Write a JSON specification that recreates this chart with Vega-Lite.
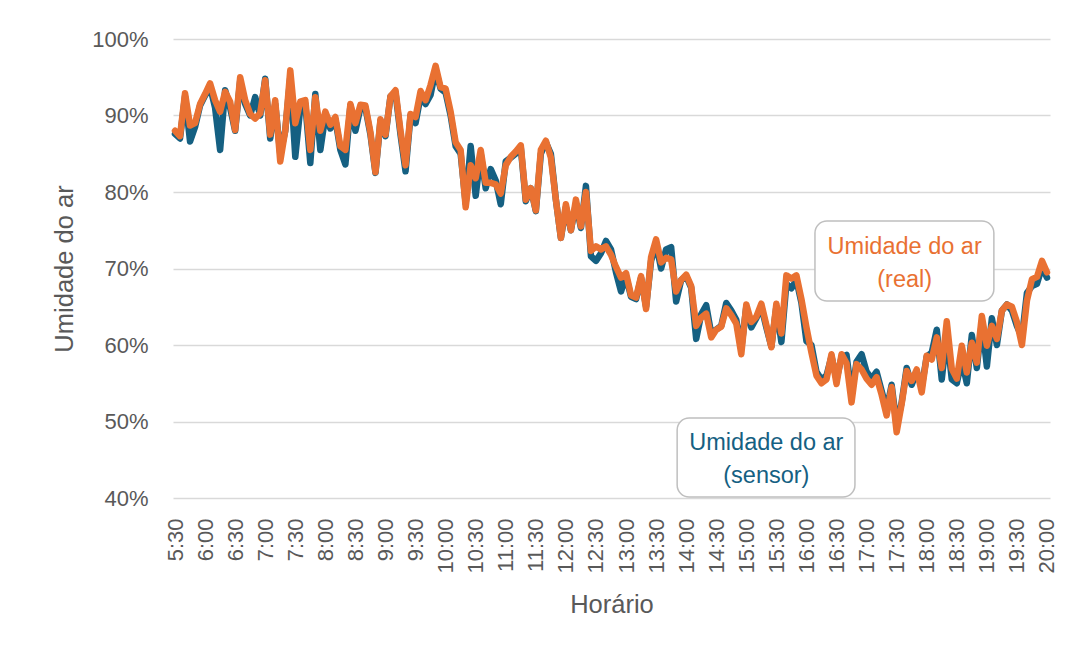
{
  "$schema": "https://vega.github.io/schema/vega-lite/v6.json",
  "width": 877,
  "height": 459,
  "autosize": "none",
  "padding": {"left": 173, "top": 39, "right": 23, "bottom": 156},
  "background": "white",
  "config": {
    "view": {"stroke": null},
    "axis": {"labelFont": "Liberation Sans", "titleFont": "Liberation Sans", "labelColor": "#595959", "titleColor": "#595959", "titleFontWeight": "normal", "domain": false, "ticks": false, "labelOverlap": false},
    "axisX": {"labelOverlap": false, "labelBound": false}
  },
  "data": {
    "values": [
      {"m":330,"r":88.0,"s":87.6},{"m":335,"r":87.3,"s":87.0},{"m":340,"r":92.9,"s":92.5},{"m":345,"r":88.7,"s":86.6},
      {"m":350,"r":89.0,"s":88.5},{"m":355,"r":91.5,"s":91.3},{"m":360,"r":92.8,"s":92.6},{"m":365,"r":94.2,"s":93.8},
      {"m":370,"r":92.0,"s":91.0},{"m":375,"r":90.5,"s":85.5},{"m":380,"r":93.1,"s":93.3},{"m":385,"r":91.8,"s":91.0},
      {"m":390,"r":88.1,"s":88.0},{"m":395,"r":95.0,"s":94.5},{"m":400,"r":92.0,"s":91.5},{"m":405,"r":90.2,"s":90.0},
      {"m":410,"r":89.6,"s":92.4},{"m":415,"r":90.3,"s":90.0},{"m":420,"r":94.6,"s":94.8},{"m":425,"r":87.5,"s":87.0},
      {"m":430,"r":92.0,"s":91.5},{"m":435,"r":84.0,"s":85.0},{"m":440,"r":88.0,"s":88.0},{"m":445,"r":95.9,"s":95.0},
      {"m":450,"r":89.0,"s":84.6},{"m":455,"r":91.8,"s":91.0},{"m":460,"r":92.0,"s":91.5},{"m":465,"r":85.5,"s":83.8},
      {"m":470,"r":92.4,"s":92.8},{"m":475,"r":88.0,"s":85.5},{"m":480,"r":90.5,"s":90.0},{"m":485,"r":88.8,"s":88.3},
      {"m":490,"r":89.8,"s":89.5},{"m":495,"r":86.0,"s":85.5},{"m":500,"r":85.5,"s":83.6},{"m":505,"r":91.5,"s":91.3},
      {"m":510,"r":89.0,"s":88.0},{"m":515,"r":91.4,"s":91.0},{"m":520,"r":91.3,"s":91.0},{"m":525,"r":87.8,"s":87.5},
      {"m":530,"r":82.6,"s":82.5},{"m":535,"r":89.5,"s":89.3},{"m":540,"r":87.5,"s":87.3},{"m":545,"r":92.5,"s":92.5},
      {"m":550,"r":93.3,"s":93.0},{"m":555,"r":88.0,"s":87.5},{"m":560,"r":83.5,"s":82.7},{"m":565,"r":90.2,"s":90.0},
      {"m":570,"r":89.8,"s":89.0},{"m":575,"r":93.2,"s":92.5},{"m":580,"r":92.0,"s":91.5},{"m":585,"r":94.0,"s":92.7},
      {"m":590,"r":96.5,"s":96.0},{"m":595,"r":93.7,"s":93.5},{"m":600,"r":93.5,"s":93.0},{"m":605,"r":90.5,"s":90.0},
      {"m":610,"r":86.5,"s":86.0},{"m":615,"r":85.5,"s":85.0},{"m":620,"r":78.0,"s":78.5},{"m":625,"r":83.5,"s":86.0},
      {"m":630,"r":81.8,"s":79.5},{"m":635,"r":85.5,"s":85.0},{"m":640,"r":81.2,"s":80.5},{"m":645,"r":81.2,"s":83.0},
      {"m":650,"r":81.0,"s":81.5},{"m":655,"r":79.8,"s":78.4},{"m":660,"r":83.5,"s":84.0},{"m":665,"r":84.6,"s":84.5},
      {"m":670,"r":85.3,"s":85.0},{"m":675,"r":86.1,"s":85.8},{"m":680,"r":79.0,"s":78.8},{"m":685,"r":80.5,"s":80.5},
      {"m":690,"r":77.6,"s":77.5},{"m":695,"r":85.5,"s":85.0},{"m":700,"r":86.7,"s":86.5},{"m":705,"r":84.5,"s":85.0},
      {"m":710,"r":79.0,"s":79.0},{"m":715,"r":74.0,"s":74.0},{"m":720,"r":78.4,"s":78.0},{"m":725,"r":75.0,"s":75.0},
      {"m":730,"r":79.0,"s":78.5},{"m":735,"r":75.5,"s":75.3},{"m":740,"r":80.0,"s":80.8},{"m":745,"r":72.3,"s":71.6},
      {"m":750,"r":72.9,"s":71.0},{"m":755,"r":72.5,"s":72.0},{"m":760,"r":72.9,"s":73.6},{"m":765,"r":71.8,"s":72.5},
      {"m":770,"r":70.2,"s":69.5},{"m":775,"r":68.8,"s":67.0},{"m":780,"r":69.4,"s":69.0},{"m":785,"r":66.5,"s":66.3},
      {"m":790,"r":66.2,"s":66.0},{"m":795,"r":69.0,"s":68.8},{"m":800,"r":64.7,"s":65.0},{"m":805,"r":71.5,"s":71.0},
      {"m":810,"r":73.8,"s":73.2},{"m":815,"r":70.8,"s":70.0},{"m":820,"r":71.4,"s":72.5},{"m":825,"r":71.2,"s":72.8},
      {"m":830,"r":67.0,"s":65.7},{"m":835,"r":68.5,"s":68.5},{"m":840,"r":69.2,"s":69.0},{"m":845,"r":67.7,"s":67.5},
      {"m":850,"r":62.5,"s":60.8},{"m":855,"r":63.6,"s":64.0},{"m":860,"r":64.1,"s":65.2},{"m":865,"r":61.0,"s":61.5},
      {"m":870,"r":62.0,"s":62.0},{"m":875,"r":62.4,"s":62.5},{"m":880,"r":64.8,"s":65.5},{"m":885,"r":63.9,"s":64.5},
      {"m":890,"r":62.8,"s":63.3},{"m":895,"r":58.8,"s":59.5},{"m":900,"r":65.3,"s":65.0},{"m":905,"r":63.0,"s":62.3},
      {"m":910,"r":63.7,"s":63.5},{"m":915,"r":65.4,"s":65.0},{"m":920,"r":62.6,"s":62.3},{"m":925,"r":59.7,"s":59.8},
      {"m":930,"r":65.4,"s":65.0},{"m":935,"r":61.5,"s":60.4},{"m":940,"r":69.1,"s":68.0},{"m":945,"r":68.7,"s":67.4},
      {"m":950,"r":69.1,"s":68.5},{"m":955,"r":66.0,"s":65.5},{"m":960,"r":62.3,"s":60.5},{"m":965,"r":59.0,"s":60.0},
      {"m":970,"r":56.0,"s":56.5},{"m":975,"r":55.0,"s":55.5},{"m":980,"r":55.5,"s":56.0},{"m":985,"r":58.8,"s":58.5},
      {"m":990,"r":54.9,"s":55.5},{"m":995,"r":58.8,"s":58.4},{"m":1000,"r":57.6,"s":58.7},{"m":1005,"r":52.5,"s":53.5},
      {"m":1010,"r":57.5,"s":57.8},{"m":1015,"r":56.8,"s":58.8},{"m":1020,"r":55.6,"s":56.5},{"m":1025,"r":54.8,"s":55.6},
      {"m":1030,"r":55.8,"s":56.5},{"m":1035,"r":53.5,"s":54.0},{"m":1040,"r":50.8,"s":51.5},{"m":1045,"r":54.5,"s":54.8},
      {"m":1050,"r":48.6,"s":49.5},{"m":1055,"r":52.3,"s":52.5},{"m":1060,"r":56.6,"s":57.0},{"m":1065,"r":55.3,"s":54.8},
      {"m":1070,"r":56.8,"s":56.5},{"m":1075,"r":53.8,"s":54.5},{"m":1080,"r":58.6,"s":58.5},{"m":1085,"r":58.1,"s":59.0},
      {"m":1090,"r":61.0,"s":62.0},{"m":1095,"r":57.0,"s":55.5},{"m":1100,"r":63.1,"s":61.5},{"m":1105,"r":56.9,"s":55.5},
      {"m":1110,"r":55.6,"s":55.0},{"m":1115,"r":59.9,"s":58.0},{"m":1120,"r":56.4,"s":55.0},{"m":1125,"r":60.3,"s":61.3},
      {"m":1130,"r":57.7,"s":57.0},{"m":1135,"r":63.8,"s":63.0},{"m":1140,"r":59.9,"s":57.2},{"m":1145,"r":62.5,"s":63.5},
      {"m":1150,"r":60.8,"s":60.0},{"m":1155,"r":64.5,"s":64.5},{"m":1160,"r":65.3,"s":65.3},{"m":1165,"r":65.0,"s":64.5},
      {"m":1170,"r":63.0,"s":62.5},{"m":1175,"r":60.0,"s":61.0},{"m":1180,"r":65.8,"s":66.8},{"m":1185,"r":68.6,"s":67.7},
      {"m":1190,"r":68.9,"s":68.0},{"m":1195,"r":71.0,"s":70.2},{"m":1200,"r":69.5,"s":68.8}
    ]
  },
  "layer": [
    {
      "mark": {"type": "line", "color": "#156082", "strokeWidth": 6.5, "strokeJoin": "round", "strokeCap": "round"},
      "encoding": {
        "x": {
          "field": "m", "type": "quantitative",
          "scale": {"domain": [328, 1203], "nice": false, "zero": false},
          "axis": {
            "title": "Horário", "titleFontSize": 25.5, "titleY": 114, "titleBaseline": "alphabetic",
            "labelFontSize": 22, "labelAngle": -90, "labelPadding": 20, "grid": false,
            "values": [330,360,390,420,450,480,510,540,570,600,630,660,690,720,750,780,810,840,870,900,930,960,990,1020,1050,1080,1110,1140,1170,1200],
            "tickCount": 100,
            "labelExpr": "floor(datum.value / 60) + ':' + (datum.value % 60 < 10 ? '0' : '') + (datum.value % 60)",
            "labelOverlap": false, "labelFlush": false
          }
        },
        "y": {
          "field": "s", "type": "quantitative",
          "scale": {"domain": [40, 100], "nice": false, "zero": false},
          "axis": {
            "title": "Umidade do ar", "titleFontSize": 25.5, "titleX": -101, "titleY": 229.5, "titleAngle": -90,
            "titleAlign": "center", "titleBaseline": "alphabetic",
            "values": [40, 50, 60, 70, 80, 90, 100], "labelExpr": "datum.value + '%'",
            "labelFontSize": 22, "labelPadding": 25, "gridColor": "#D9D9D9", "gridWidth": 1.5
          }
        }
      }
    },
    {
      "mark": {"type": "line", "color": "#E97132", "strokeWidth": 6.5, "strokeJoin": "round", "strokeCap": "round"},
      "encoding": {
        "x": {"field": "m", "type": "quantitative"},
        "y": {"field": "r", "type": "quantitative"}
      }
    },
    {
      "data": {
        "values": [
          {"serie": "real", "x1": 968.5, "x2": 1147, "y1": 76.2, "y2": 65.75, "xm": 1058, "ym": 72.8, "texto": "Umidade do ar\n(real)"},
          {"serie": "sensor", "x1": 831, "x2": 1008.4, "y1": 50.46, "y2": 40.13, "xm": 920, "ym": 47.2, "texto": "Umidade do ar\n(sensor)"}
        ]
      },
      "layer": [
        {
          "mark": {"type": "rect", "fill": "white", "stroke": "#BFBFBF", "strokeWidth": 1.5, "cornerRadius": 12},
          "encoding": {
            "x": {"field": "x1", "type": "quantitative"},
            "x2": {"field": "x2"},
            "y": {"field": "y1", "type": "quantitative"},
            "y2": {"field": "y2"}
          }
        },
        {
          "mark": {"type": "text", "font": "Liberation Sans", "fontSize": 23.5, "lineBreak": "\n", "lineHeight": 33, "align": "center", "baseline": "middle"},
          "encoding": {
            "x": {"field": "xm", "type": "quantitative"},
            "y": {"field": "ym", "type": "quantitative"},
            "text": {"field": "texto"},
            "color": {"field": "serie", "type": "nominal", "scale": {"domain": ["sensor", "real"], "range": ["#156082", "#E97132"]}, "legend": null}
          }
        }
      ]
    }
  ]
}
